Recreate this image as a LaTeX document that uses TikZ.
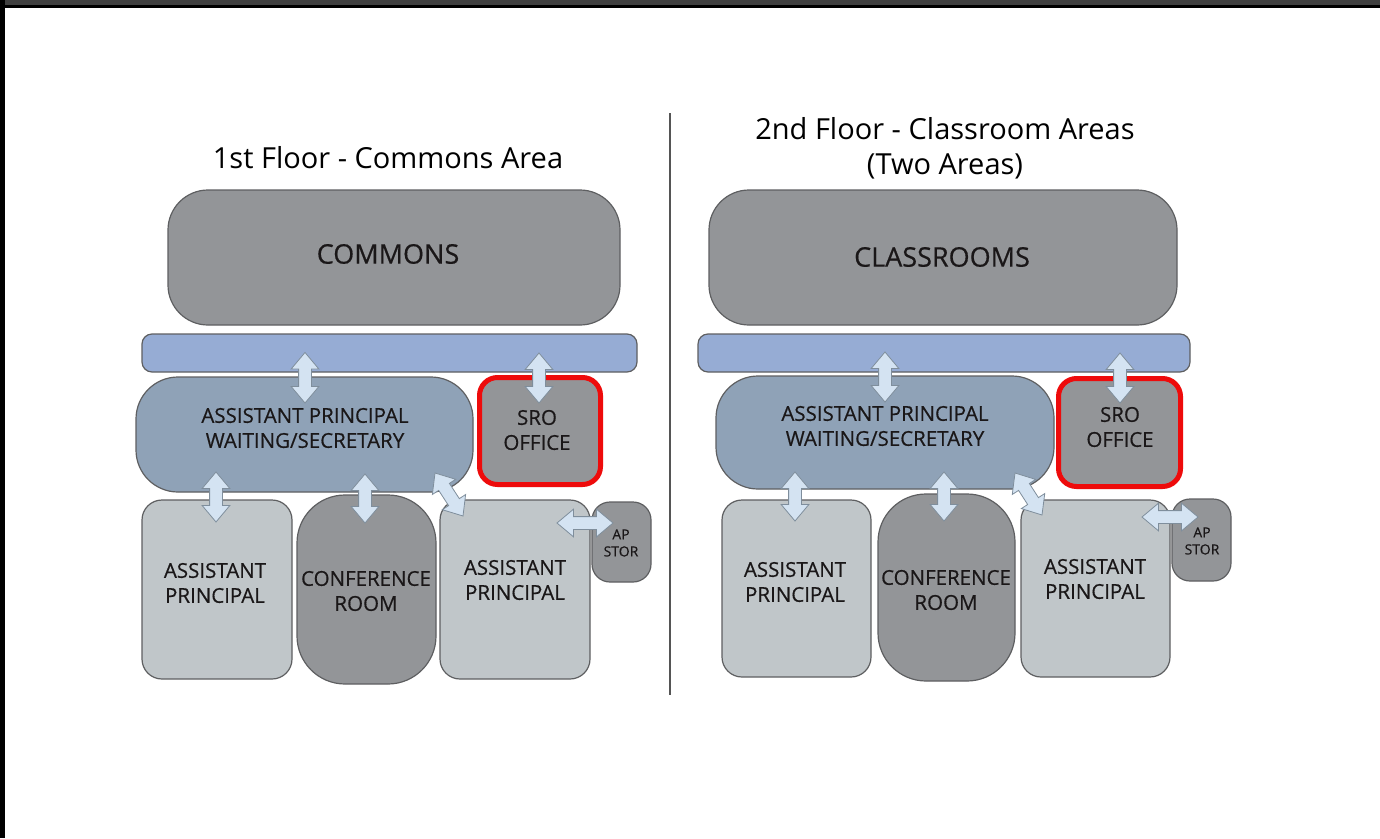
\documentclass[tikz,border=0pt]{standalone}
\usepackage{fontspec}
\newfontfamily\planfont{Open Sans}
\newfontfamily\roomfont[FakeBold=0.5]{Open Sans}
\usetikzlibrary{shapes.arrows,calc}
\definecolor{darkroom}{HTML}{939598}
\definecolor{lightroom}{HTML}{C0C6C9}
\definecolor{waitroom}{HTML}{8FA2B7}
\definecolor{corridor}{HTML}{96ACD4}
\definecolor{edgegray}{HTML}{5E5F61}
\definecolor{arrowfill}{HTML}{D4E3F2}
\definecolor{arrowedge}{HTML}{7F8E9C}
\definecolor{sroRed}{HTML}{EE0B0B}
\definecolor{inkgray}{HTML}{1A1718}
\definecolor{topband}{HTML}{404040}
\definecolor{divider}{HTML}{555555}
\tikzset{
  room/.style={draw=edgegray, line width=1.2pt, inner sep=0pt},
  sroroom/.style={draw=sroRed, line width=5pt, inner sep=0pt, fill=darkroom, rounded corners=18pt},
  lbl/.style={font=\roomfont\fontsize{20.5}{25}\selectfont, text=inkgray, align=center, inner sep=0pt},
  biglbl/.style={font=\roomfont\fontsize{27}{32}\selectfont, text=inkgray, align=center, inner sep=0pt},
  smalllbl/.style={font=\roomfont\fontsize{14}{17}\selectfont, text=inkgray, align=center, inner sep=0pt},
  ttl/.style={font=\planfont\fontsize{29}{35}\selectfont, text=black, align=center, inner sep=0pt},
  dblarrow/.style={double arrow, draw=arrowedge, fill=arrowfill, line width=0.8pt,
     inner sep=6pt, double arrow head extend=7.5pt, double arrow tip angle=80}
}
\newcommand\dblconn[3]{%
  \path let \p1=#2, \p2=#3, \n1={atan2(\y2-\y1,\x2-\x1)}, \n2={veclen(\x2-\x1,\y2-\y1)} in
    node[dblarrow, rotate=\n1, minimum height=\n2] (#1) at ($#2!0.5!#3$) {};}
\begin{document}
\begin{tikzpicture}[x=1pt,y=-1pt]
\useasboundingbox (0,0) rectangle (1380,838);
\fill[white] (0,0) rectangle (1380,838);
% frame
\fill[topband] (0,0) rectangle (1380,5);
\fill[black] (0,5) rectangle (1380,8);
\fill[black] (0,0) rectangle (5,838);
% divider
\draw[divider, line width=2pt] (670,113) -- (670,695);

% ---------- left: 1st floor ----------
\node[ttl] (t1) at (388,158) {1st Floor - Commons Area};
\node[room, fill=darkroom, rounded corners=40pt, minimum width=452pt, minimum height=135pt] (commons) at (394,257.5) {};
\node[biglbl] (commonsL) at (388,254) {COMMONS};
\node[room, fill=corridor, rounded corners=10pt, minimum width=495pt, minimum height=38pt] (bar1) at (389.5,353) {};
\node[room, fill=waitroom, rounded corners=42pt, minimum width=337pt, minimum height=115pt] (wait1) at (304.5,434.5) {};
\node[lbl] (wait1L) at (305,428) {ASSISTANT PRINCIPAL\\WAITING/SECRETARY};
\node[sroroom, minimum width=121pt, minimum height=107pt] (sro1) at (540,431) {};
\node[lbl] (sro1L) at (537,430) {SRO\\OFFICE};
\node[room, fill=lightroom, rounded corners=20pt, minimum width=150pt, minimum height=179pt] (apa1) at (217,589.5) {};
\node[lbl] (apa1L) at (215,583) {ASSISTANT\\PRINCIPAL};
\node[room, fill=darkroom, rounded corners=48pt, minimum width=139pt, minimum height=189pt] (conf1) at (366.5,589.5) {};
\node[lbl] (conf1L) at (366,591) {CONFERENCE\\ROOM};
\node[room, fill=lightroom, rounded corners=20pt, minimum width=150pt, minimum height=179pt] (apb1) at (515,589.5) {};
\node[lbl] (apb1L) at (515,580) {ASSISTANT\\PRINCIPAL};
\node[room, fill=darkroom, rounded corners=18pt, minimum width=59pt, minimum height=80pt] (stor1) at (621.5,542) {};
\node[smalllbl] (stor1L) at (621,543) {AP\\STOR};

\coordinate (l1s) at (305,352.5); \coordinate (l1e) at (305,403);
\coordinate (l2s) at (539,353);   \coordinate (l2e) at (539,403);
\coordinate (l3s) at (216,472);   \coordinate (l3e) at (216,522);
\coordinate (l4s) at (365,474);   \coordinate (l4e) at (365,523);
\coordinate (l5s) at (435,473);   \coordinate (l5e) at (463,516);
\coordinate (l6s) at (557,523);   \coordinate (l6e) at (613,523);
\dblconn{la1}{(l1s)}{(l1e)}
\dblconn{la2}{(l2s)}{(l2e)}
\dblconn{la3}{(l3s)}{(l3e)}
\dblconn{la4}{(l4s)}{(l4e)}
\dblconn{la5}{(l5s)}{(l5e)}
\dblconn{la6}{(l6s)}{(l6e)}

% ---------- right: 2nd floor ----------
\node[ttl] (t2) at (945,148.5) {2nd Floor - Classroom Areas\\(Two Areas)};
\node[room, fill=darkroom, rounded corners=40pt, minimum width=468pt, minimum height=135pt] (class) at (943,257.5) {};
\node[biglbl] (classL) at (942,257) {CLASSROOMS};
\node[room, fill=corridor, rounded corners=10pt, minimum width=492pt, minimum height=38pt] (bar2) at (944,353) {};
\node[room, fill=waitroom, rounded corners=42pt, minimum width=338pt, minimum height=113pt] (wait2) at (885,432.5) {};
\node[lbl] (wait2L) at (885,426) {ASSISTANT PRINCIPAL\\WAITING/SECRETARY};
\node[sroroom, minimum width=122pt, minimum height=108pt] (sro2) at (1119.5,432.5) {};
\node[lbl] (sro2L) at (1120,427) {SRO\\OFFICE};
\node[room, fill=lightroom, rounded corners=20pt, minimum width=149pt, minimum height=177pt] (apa2) at (796.5,588.5) {};
\node[lbl] (apa2L) at (795,582) {ASSISTANT\\PRINCIPAL};
\node[room, fill=darkroom, rounded corners=48pt, minimum width=137pt, minimum height=187pt] (conf2) at (946.5,587.5) {};
\node[lbl] (conf2L) at (946,590) {CONFERENCE\\ROOM};
\node[room, fill=lightroom, rounded corners=20pt, minimum width=149pt, minimum height=177pt] (apb2) at (1095.5,588.5) {};
\node[lbl] (apb2L) at (1095,579) {ASSISTANT\\PRINCIPAL};
\node[room, fill=darkroom, rounded corners=18pt, minimum width=59pt, minimum height=82pt] (stor2) at (1201.5,540) {};
\node[smalllbl] (stor2L) at (1202,541) {AP\\STOR};

\coordinate (r1s) at (885,352);   \coordinate (r1e) at (885,402);
\coordinate (r2s) at (1120,353);  \coordinate (r2e) at (1120,403);
\coordinate (r3s) at (795,472);   \coordinate (r3e) at (795,521);
\coordinate (r4s) at (944,472);   \coordinate (r4e) at (944,521);
\coordinate (r5s) at (1015,473);  \coordinate (r5e) at (1042,515);
\coordinate (r6s) at (1142,517);  \coordinate (r6e) at (1198,517);
\dblconn{ra1}{(r1s)}{(r1e)}
\dblconn{ra2}{(r2s)}{(r2e)}
\dblconn{ra3}{(r3s)}{(r3e)}
\dblconn{ra4}{(r4s)}{(r4e)}
\dblconn{ra5}{(r5s)}{(r5e)}
\dblconn{ra6}{(r6s)}{(r6e)}
\end{tikzpicture}
\end{document}
